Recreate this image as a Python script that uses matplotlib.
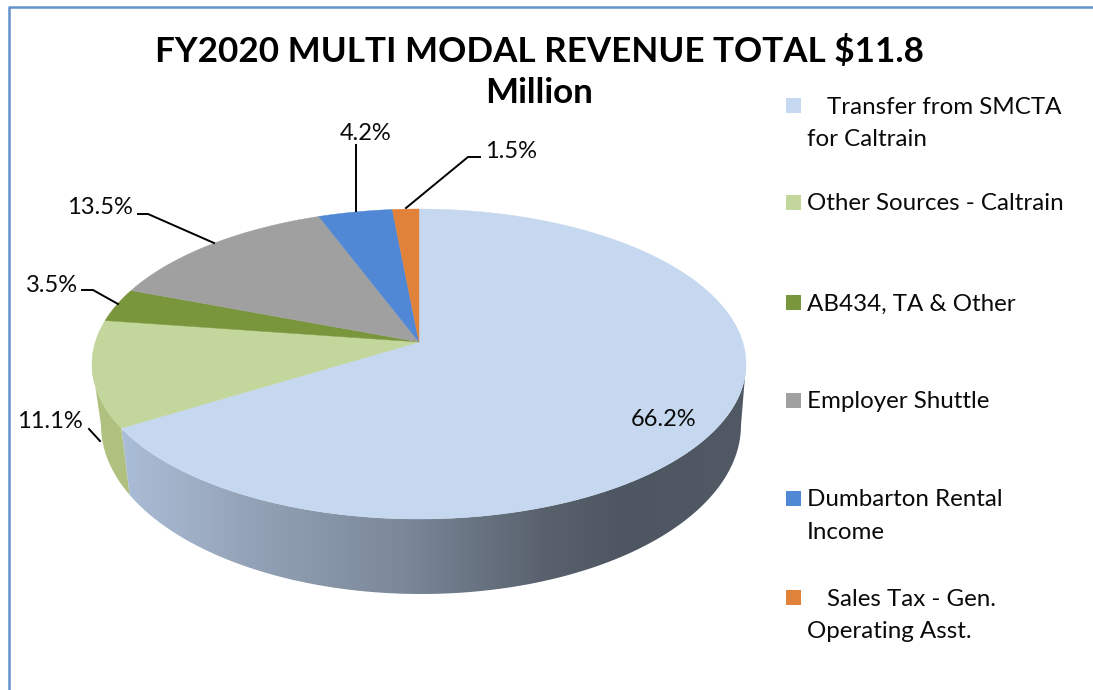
import numpy as np
from matplotlib import pyplot as plt
from matplotlib.colors import LinearSegmentedColormap
from matplotlib.patches import Polygon

categories = [
    "Transfer from SMCTA for Caltrain",
    "Other Sources - Caltrain",
    "AB434, TA & Other",
    "Employer Shuttle",
    "Dumbarton Rental Income",
    "Sales Tax - Gen. Operating Asst.",
]
values = [66.2, 11.1, 3.5, 13.5, 4.2, 1.5]
colors = ["#C5D8EF", "#C3D69B", "#7A963C", "#A0A0A0", "#5088D6", "#E0823A"]
legend_lines = [
    ("Transfer from SMCTA", "for Caltrain"),
    ("Other Sources - Caltrain",),
    ("AB434, TA & Other",),
    ("Employer Shuttle",),
    ("Dumbarton Rental", "Income"),
    ("Sales Tax - Gen.", "Operating Asst."),
]
title_lines = ["FY2020 MULTI MODAL REVENUE TOTAL $11.8", "Million"]

CX, CY = 419, 364
RX, RY = 327, 155
APEX_SHIFT = 22
BOTTOM_CX, BOTTOM_CY, BOTTOM_RX, BOTTOM_RY = 421, 425, 320, 169


def rim(theta):
    # perspective view of the circle, the pie centre sits above the ellipse centre
    k = APEX_SHIFT / RY
    d = 1 + k * np.sin(theta)
    u = RX * np.sqrt(1 - k**2) * np.cos(theta) / d
    v = (RY * np.sin(theta) + APEX_SHIFT) / d
    return u, v


def top_xy(theta):
    u, v = rim(theta)
    return CX + u, CY - v


def bottom_xy(theta):
    u, v = rim(theta)
    return BOTTOM_CX + u * BOTTOM_RX / RX, BOTTOM_CY - v * BOTTOM_RY / RY


def wall_polygon(theta, **kwargs):
    xs, ys = top_xy(theta)
    xb, yb = bottom_xy(theta)
    return Polygon(np.r_[np.c_[xs, ys], np.c_[xb, yb][::-1]], **kwargs)


plt.rcParams["font.family"] = ["Lato", "DejaVu Sans"]
fig = plt.figure(figsize=(10.93, 6.9), dpi=100)
ax = fig.add_axes([0, 0, 1, 1])
ax.set_xlim(0, 1093)
ax.set_ylim(690, 0)
ax.axis("off")

# chart border, the right side is cut off in the reference
ax.plot([8.5, 8.5, 1093], [690, 6.5, 6.5], color="#6492CC", lw=1.8, zorder=1)

edges = np.pi / 2 - np.cumsum([0] + values) / 100 * 2 * np.pi
split = edges[1]
tangent = np.arcsin(APEX_SHIFT / RY)

# side wall, green part on the left of the first boundary
left = np.linspace(np.pi + tangent, split + 2 * np.pi, 40)
ax.add_patch(wall_polygon(left, fc="#AFC07F", ec="none", zorder=2))

low = np.linspace(split, -tangent, 200)
wall = wall_polygon(low, fc="none", ec="none")
ax.add_patch(wall)
shade = LinearSegmentedColormap.from_list(
    "wall",
    [(0.0, "#AABDD6"), (0.2, "#95A3B8"), (0.45, "#7A8899"),
     (0.68, "#59616D"), (0.8, "#4E5661"), (1.0, "#505964")],
)
img = ax.imshow(np.linspace(0, 1, 256)[None, :], cmap=shade, aspect="auto",
                extent=(122, 746, 600, 340), zorder=3)
img.set_clip_path(wall)
ax.set_xlim(0, 1093)
ax.set_ylim(690, 0)

# top surface
apex_x, apex_y = CX, CY - APEX_SHIFT
for i, color in enumerate(colors):
    t = np.linspace(edges[i], edges[i + 1], 200)
    xs, ys = top_xy(t)
    ax.fill(np.r_[apex_x, xs], np.r_[apex_y, ys], color=color, lw=0.3, zorder=4)

# leader lines, same order as values
leaders = [
    None,
    ([89, 100], [429, 441]),
    ([82, 93, 118], [290, 290, 304]),
    ([138, 148, 214], [214, 214, 243]),
    ([356, 356], [145, 211]),
    ([480, 468, 406], [157, 157, 208]),
]
label_pos = [(664, 419), (50, 422), (52, 285), (100, 208), (366, 133), (511, 152)]
for val, line, pos in zip(values, leaders, label_pos):
    if line is not None:
        ax.plot(line[0], line[1], color="black", lw=1.4, zorder=5, solid_joinstyle="miter")
    ax.text(pos[0], pos[1], f"{val}%", fontsize=17, color="#0A0A0A",
            ha="center", va="center", zorder=6)

# title
for line, y in zip(title_lines, [52, 93]):
    ax.text(539, y, line, fontsize=25.2, fontweight="bold", color="black",
            ha="center", va="center", zorder=6)

# legend
legend_y = [105, 202, 302, 400, 498, 597]
indented = [True, False, False, False, False, True]
for lines, color, y, ind in zip(legend_lines, colors, legend_y, indented):
    ax.fill([786, 801, 801, 786], [y - 7.5, y - 7.5, y + 7.5, y + 7.5], color=color, lw=0, zorder=5)
    for j, line in enumerate(lines):
        x = 827 if ind and j == 0 else 807
        ax.text(x, y + 2 + j * 32.5, line, fontsize=17.4, color="#0A0A0A",
                ha="left", va="center", zorder=6)

fig.savefig("out.png", dpi=100)
